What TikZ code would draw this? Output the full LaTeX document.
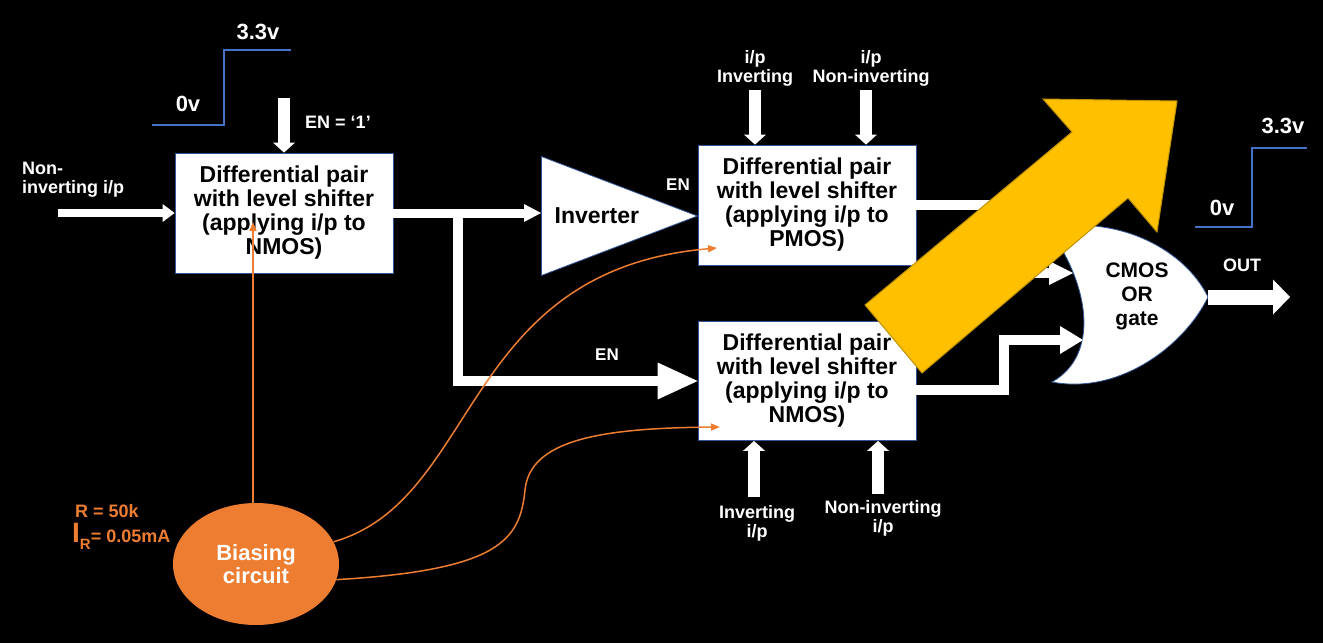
\documentclass[tikz,border=0pt]{standalone}
\usepackage{fontspec}
\setmainfont{Liberation Sans}
\usetikzlibrary{positioning,shapes.geometric,arrows.meta}

\definecolor{edge}{HTML}{2F5597}
\definecolor{wave}{HTML}{4472C4}
\definecolor{bias}{HTML}{ED7D31}
\definecolor{gold}{HTML}{FFC000}
\definecolor{goldedge}{HTML}{BF9000}

\tikzset{
  diffpair/.style={rectangle, draw=edge, fill=white, line width=0.8pt,
    minimum width=218pt, minimum height=120pt, inner sep=0pt, align=center,
    font=\fontsize{23}{24}\selectfont\bfseries},
  tag/.style={text=white, align=center, inner sep=0pt,
    font=\fontsize{18}{19}\selectfont\bfseries},
  volt/.style={text=white, inner sep=0pt, font=\fontsize{22}{22}\selectfont\bfseries},
  bus/.style n args={3}{draw=white, line width=#1, line join=miter,
    -{Triangle[width=#2,length=#3,line width=0pt]}},
  feed/.style={draw=bias, line width=1.5pt, -{Triangle[length=9pt,width=7pt]}},
  level/.style={draw=wave, line width=1.6pt},
}

\begin{document}
\begin{tikzpicture}[x=1pt,y=-1pt]
  \fill[black] (0,0) rectangle (1323,643);
  \useasboundingbox (0,0) rectangle (1323,643);

  %% enable step
  \draw[level] (152,125) -- (224,125) -- (224,50) -- (291,50);
  \node[volt] (LowIn) at (188,104) {0v};
  \node[volt] (HighIn) at (258,32) {3.3v};

  %% blocks
  \node[diffpair] (DiffN1) at (284,213) {Differential pair\\with level shifter\\(applying i/p to\\NMOS)};
  \node[diffpair] (DiffP) at (807,205) {Differential pair\\with level shifter\\(applying i/p to\\PMOS)};
  \node[diffpair, minimum height=119pt] (DiffN2) at (807,381) {Differential pair\\with level shifter\\(applying i/p to\\NMOS)};
  \node[isosceles triangle, isosceles triangle stretches, shape border rotate=0, anchor=west,
    draw=edge, fill=white, line width=0.8pt, minimum width=119pt, minimum height=156pt,
    inner sep=0pt, font=\fontsize{23}{24}\selectfont\bfseries] (Inv) at (541,216) {Inverter};

  %% inputs of first pair
  \coordinate (NonIn) at (58,213);
  \node[tag, align=left, anchor=west] (NonInTag) at (22,180) {Non-\\inverting i/p};
  \draw[bus={8pt}{18pt}{12pt}] (NonIn) -- (DiffN1.west);
  \coordinate (EnTop) at (284,98);
  \draw[bus={12pt}{22pt}{10pt}] (EnTop) -- (DiffN1.north);
  \node[tag] (EnOne) at (338,122) {EN = ‘1’};

  %% to inverter and branch
  \coordinate (Tap) at (458,213);
  \draw[bus={9pt}{18pt}{17pt}] (DiffN1.east) -- (DiffN1.east -| Inv.west);
  \draw[bus={10pt}{37pt}{40pt}] ([yshift=-4pt]Tap) |- (DiffN2.west);
  \node[tag, font=\fontsize{17}{17}\selectfont\bfseries] (EnInv) at (678,185) {EN};
  \node[tag, font=\fontsize{17}{17}\selectfont\bfseries] (EnLow) at (607,355) {EN};

  %% PMOS pair inputs
  \coordinate (PInv) at (755,90);
  \coordinate (PNon) at (866,90);
  \draw[bus={12pt}{22pt}{10pt}] (PInv) -- (PInv |- DiffP.north);
  \draw[bus={12pt}{22pt}{10pt}] (PNon) -- (PNon |- DiffP.north);
  \node[tag] (PInvTag) [above=3pt of PInv] {i/p\\Inverting};
  \node[tag] (PNonTag) [above=3pt of PNon, xshift=5pt] {i/p\\Non-inverting};

  %% NMOS pair inputs
  \coordinate (NInv) at (754,497);
  \coordinate (NNon) at (878,494);
  \draw[bus={12pt}{22pt}{10pt}] (NInv) -- (NInv |- DiffN2.south);
  \draw[bus={12pt}{22pt}{10pt}] (NNon) -- (NNon |- DiffN2.south);
  \node[tag] (NInvTag) [below=8pt of NInv, xshift=3pt] {Inverting\\i/p};
  \node[tag] (NNonTag) [below=6pt of NNon, xshift=5pt] {Non-inverting\\i/p};

  %% OR gate
  \coordinate (OrTop) at (1048,228);
  \coordinate (OrTip) at (1208,297);
  \coordinate (OrBot) at (1052,382);
  \draw[draw=edge, fill=white, line width=0.8pt] (OrTop) .. controls (1120,215) and (1185,250) .. (OrTip)
    .. controls (1185,345) and (1120,395) .. (OrBot) .. controls (1100,355) and (1090,285) .. cycle;
  \node[inner sep=0pt, align=center, font=\fontsize{21}{24}\selectfont\bfseries] (OrGate) at (1137,296) {CMOS\\OR\\gate};
  \coordinate (OrInA) at (1073,273);
  \coordinate (OrInB) at (1083,340);
  \draw[bus={10pt}{24pt}{24pt}] (DiffP.east) -- ++(123,0) |- (OrInA);
  \draw[bus={10pt}{28pt}{23pt}] ([yshift=-9pt]DiffN2.east) -- ++(88,0) |- (OrInB);
  \coordinate (OutEnd) at (1290,297);
  \draw[bus={15pt}{35pt}{17pt}] (OrTip) -- (OutEnd);
  \node[tag] (OutTag) at (1242,265) {OUT};

  %% output step
  \draw[level] (1195,227) -- (1252,227) -- (1252,148) -- (1307,148);
  \node[volt] (LowOut) at (1222,208) {0v};
  \node[volt] (HighOut) at (1283,126) {3.3v};

  %% biasing
  \node[ellipse, fill=bias, minimum width=166pt, minimum height=122pt, inner sep=0pt,
    text=white, align=center, font=\fontsize{22}{23.5}\selectfont\bfseries] (Bias) at (256,564) {Biasing\\circuit};
  \node[text=bias, anchor=west, inner sep=0pt, font=\fontsize{18}{18}\selectfont\bfseries] (RVal) at (75,511) {R = 50k};
  \node[text=bias, anchor=base west, inner sep=0pt, font=\bfseries] (IVal) at (72,542)
    {{\fontsize{28}{28}\selectfont I}\raisebox{-7pt}{\fontsize{15}{15}\selectfont R}{\fontsize{18}{18}\selectfont= 0.05mA}};

  \coordinate (FeedA) at (253,222);
  \coordinate (FeedB) at (717,248);
  \coordinate (FeedC) at (720,427);
  \draw[feed] (Bias.north -| FeedA) -- (FeedA);
  \draw[feed] (Bias.16) .. controls (480,500) and (460,270) .. (FeedB);
  \draw[feed] (Bias.-11) .. controls (500,570) and (520,540) .. (525,490) .. controls (530,440) and (600,428) .. (FeedC);

  %% big arrow on top
  \draw[draw=goldedge, fill=gold, line width=1pt] (865,305) -- (1072,132) -- (1043,99) -- (1177,101)
    -- (1157,232) -- (1128,198) -- (922,373) -- cycle;
\end{tikzpicture}
\end{document}
